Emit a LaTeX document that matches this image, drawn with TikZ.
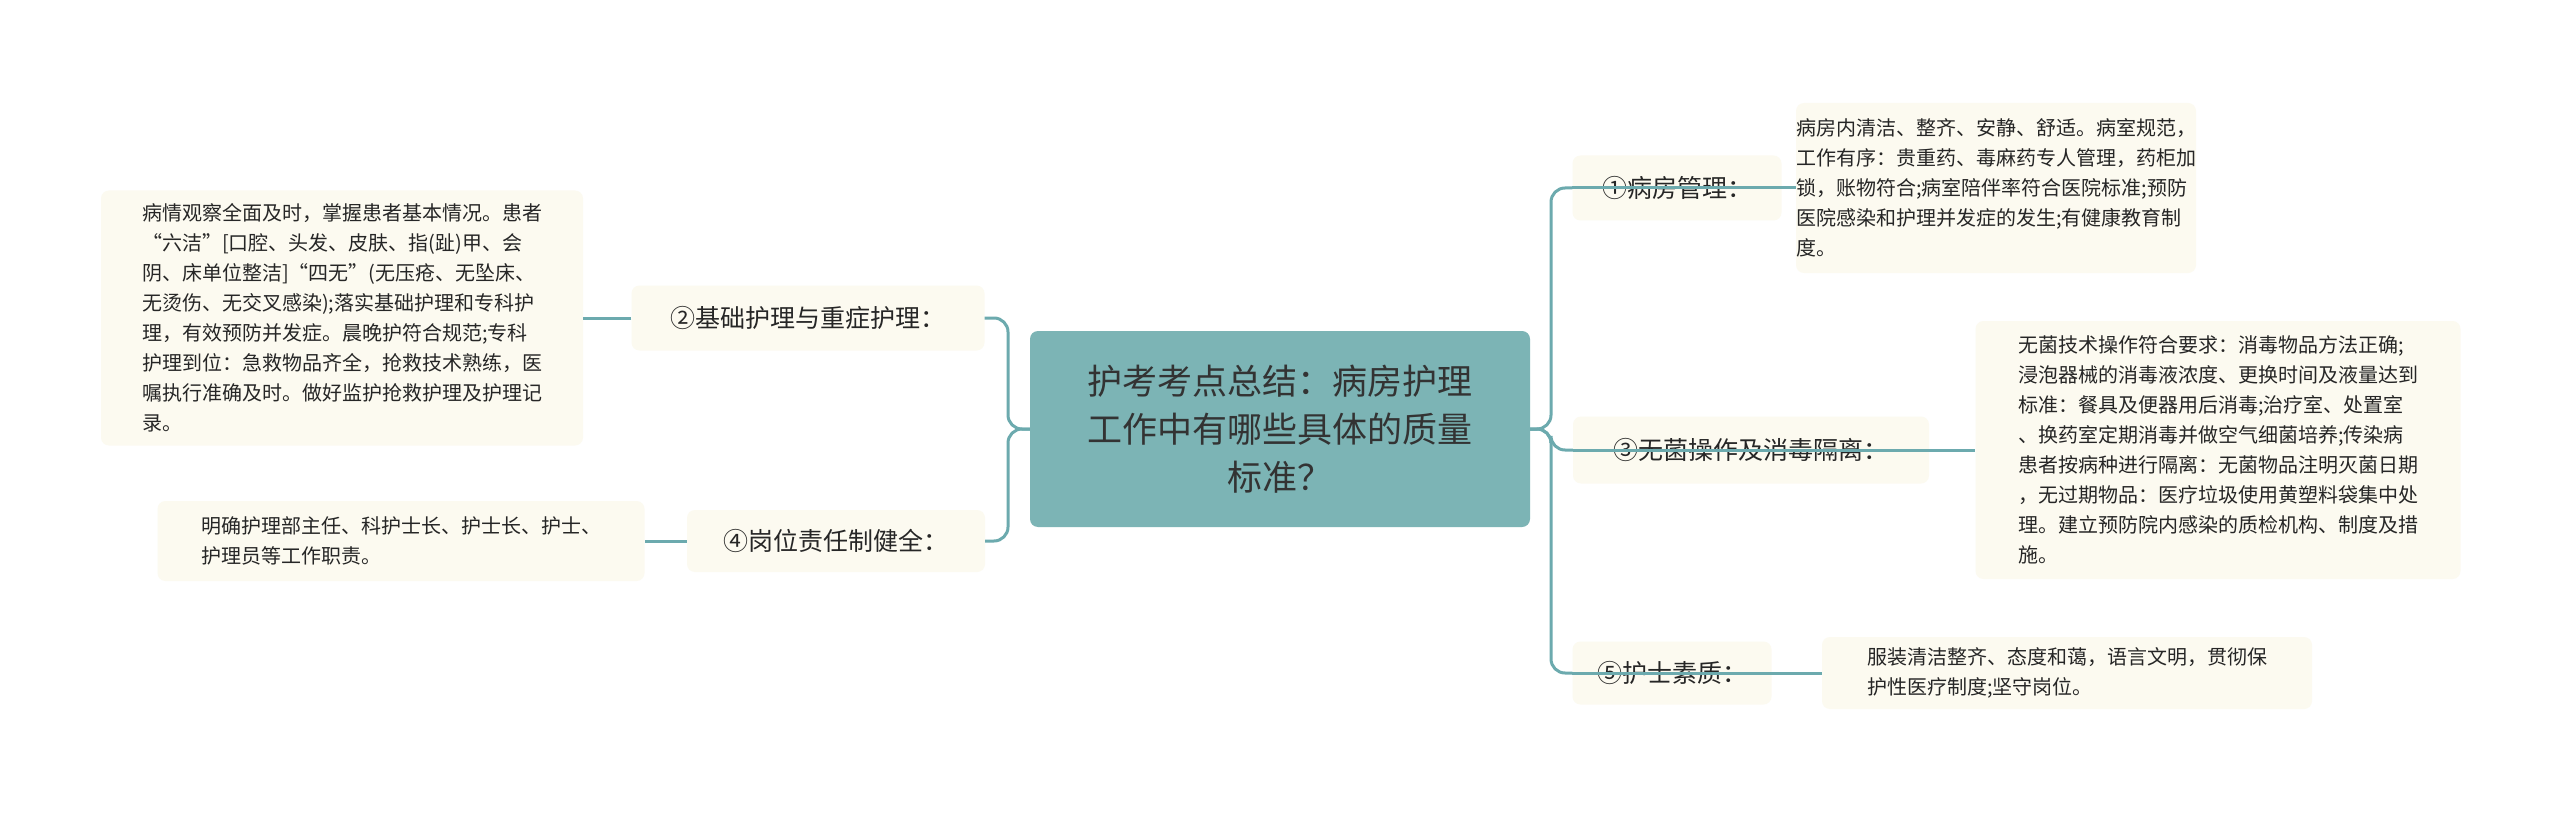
\documentclass[tikz,border=0pt]{standalone}
\usepackage{fontspec}
\setmainfont{Noto Sans CJK SC}
\begin{document}
\begin{tikzpicture}[x=1pt,y=-1pt,
  line/.style={draw=lc,line width=3pt,rounded corners=14pt},
  leaf/.style={fill=leafc,rounded corners=8pt,align=left,font=\fontsize{20}{30}\selectfont,text=black!85,inner sep=0pt,anchor=center},
  br/.style={fill=leafc,rounded corners=8pt,font=\fontsize{25}{30}\selectfont,text=black!85,inner sep=0pt,anchor=center},
  ]
\definecolor{lc}{RGB}{108,170,174}
\definecolor{leafc}{RGB}{252,250,240}
\definecolor{cc}{RGB}{124,180,181}
\useasboundingbox[fill=white] (0,0) rectangle (2560,813);
\node[fill=cc,rounded corners=8pt,minimum width=500pt,minimum height=196pt,align=center,font=\fontsize{35}{48}\selectfont,text=black!80] (c) at (1280,429) {护考考点总结：病房护理\\工作中有哪些具体的质量\\标准？};
% left
\node[br,minimum width=353pt,minimum height=65pt] (b2) at (808,318) {②基础护理与重症护理：};
\node[br,minimum width=298pt,minimum height=62pt] (b4) at (836,541) {④岗位责任制健全：};
\node[leaf,minimum width=482pt,minimum height=255pt] (l2) at (342,318) {病情观察全面及时，掌握患者基本情况。患者\\“六洁”[口腔、头发、皮肤、指(趾)甲、会\\阴、床单位整洁]“四无”(无压疮、无坠床、\\无烫伤、无交叉感染);落实基础护理和专科护\\理，有效预防并发症。晨晚护符合规范;专科\\护理到位：急救物品齐全，抢救技术熟练，医\\嘱执行准确及时。做好监护抢救护理及护理记\\录。};
\node[leaf,minimum width=487pt,minimum height=80pt] (l4) at (401,541) {明确护理部主任、科护士长、护士长、护士、\\护理员等工作职责。};
% right
\node[br,minimum width=209pt,minimum height=65pt] (b1) at (1677,188) {①病房管理：};
\node[br,minimum width=356pt,minimum height=67pt] (b3) at (1751,450) {③无菌操作及消毒隔离：};
\node[br,minimum width=199pt,minimum height=63pt] (b5) at (1672,673) {⑤护士素质：};
\node[leaf,minimum width=363pt,minimum height=170pt] (l1) at (1996,188) {病房内清洁、整齐、安静、舒适。病室规范，\\工作有序：贵重药、毒麻药专人管理，药柜加\\锁，账物符合;病室陪伴率符合医院标准;预防\\医院感染和护理并发症的发生;有健康教育制\\度。};
\node[leaf,minimum width=485pt,minimum height=258pt] (l3) at (2218,450) {无菌技术操作符合要求：消毒物品方法正确;\\浸泡器械的消毒液浓度、更换时间及液量达到\\标准：餐具及便器用后消毒;治疗室、处置室\\、换药室定期消毒并做空气细菌培养;传染病\\患者按病种进行隔离：无菌物品注明灭菌日期\\，无过期物品：医疗垃圾使用黄塑料袋集中处\\理。建立预防院内感染的质检机构、制度及措\\施。};
\node[leaf,minimum width=490pt,minimum height=72pt] (l5) at (2067,673) {服装清洁整齐、态度和蔼，语言文明，贯彻保\\护性医疗制度;坚守岗位。};
% connectors
\draw[line] (c.west) -- (1008,429) |- (b2.east);
\draw[line] (c.west) -- (1008,429) |- (b4.east);
\draw[line] (c.east) -- (1551,429) |- (b1.west);
\draw[line] (c.east) -- (1551,429) |- (b3.west);
\draw[line] (c.east) -- (1551,429) |- (b5.west);
\draw[line] (b2.west) -- (l2.east);
\draw[line] (b4.west) -- (l4.east);
\draw[line] (b1.west) -- (l1.west);
\draw[line] (b3.west) -- (l3.west);
\draw[line] (b5.west) -- (l5.west);
\end{tikzpicture}
\end{document}
